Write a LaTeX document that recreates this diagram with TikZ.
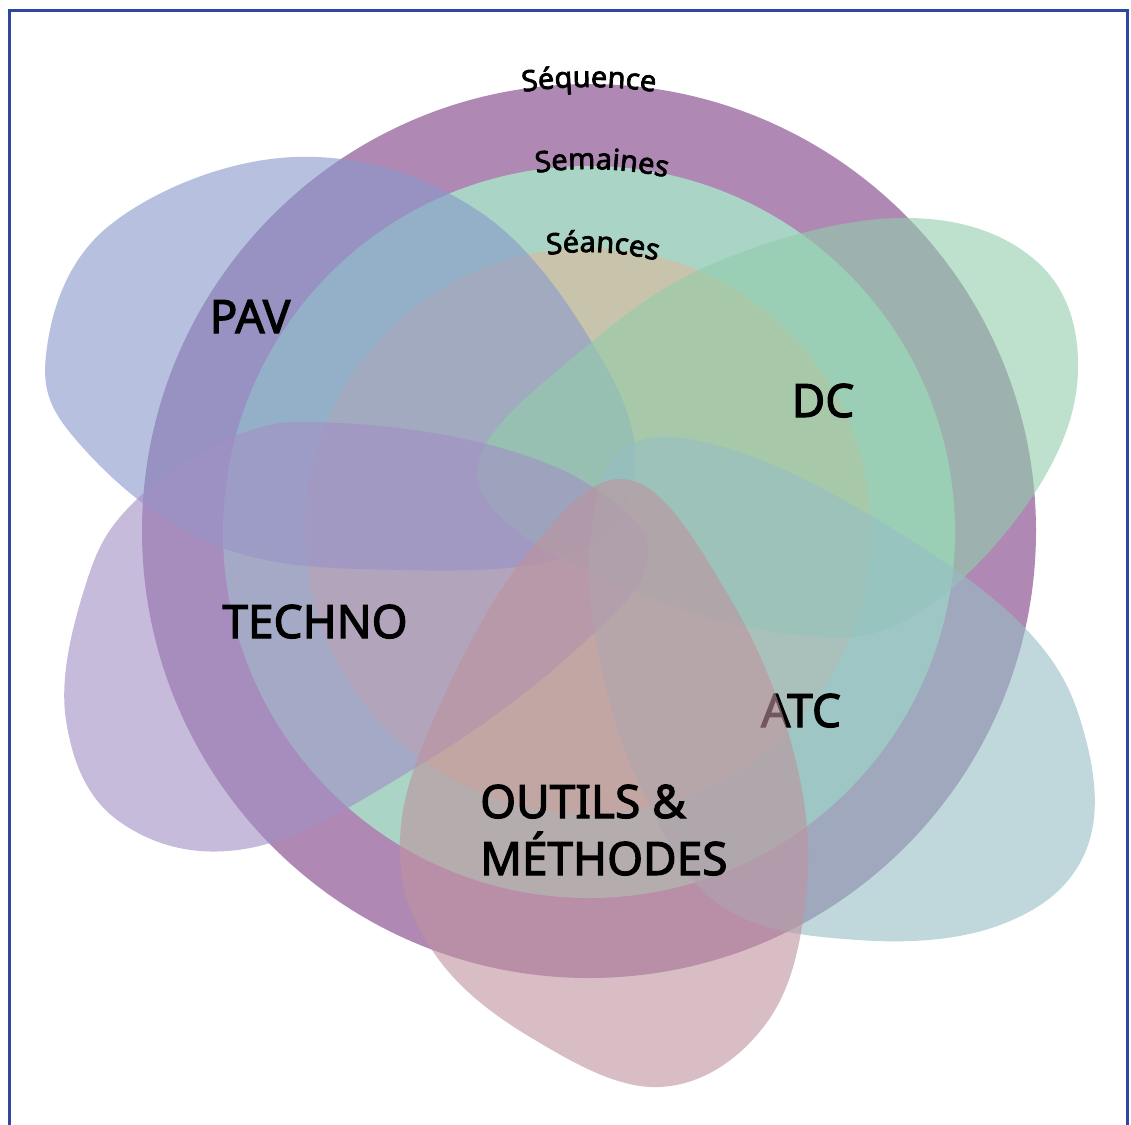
\documentclass[tikz,border=0pt]{standalone}
\usepackage{fontspec}
\setmainfont{Noto Sans}
\newfontfamily\medfont{Noto Sans}[FakeBold=2.5]
\usetikzlibrary{decorations.text}
\definecolor{ringout}{HTML}{AF89B4}
\definecolor{ringmid}{HTML}{A9D4C6}
\definecolor{ringin}{HTML}{C8C4AC}
\definecolor{pavc}{HTML}{8799CA}
\definecolor{dcc}{HTML}{91CDAA}
\definecolor{atcc}{HTML}{96BEC5}
\definecolor{outc}{HTML}{BE939D}
\definecolor{techc}{HTML}{A28FC5}
\definecolor{borderblue}{HTML}{2E47A3}
\begin{document}
\begin{tikzpicture}[x=1pt,y=-1pt,
  blob/.style={fill=#1, fill opacity=0.6, draw=none},
  lbl/.style={font=\medfont\fontsize{46}{57}\selectfont, text=black, inner sep=0pt, anchor=base},
  borderline/.style={draw=borderblue, line width=3pt},
  curvetext/.style={decorate, decoration={text along path, text align=center,
     text={|\medfont\fontsize{29}{34}\selectfont|#1}}}
]
\useasboundingbox (0,0) rectangle (1131,1124);
\fill[white] (0,0) rectangle (1131,1124);
\draw[borderline] (9,1130) -- (9,11) -- (1127,11) -- (1127,1130);
% concentric circles
\fill[ringout] (589,531) circle[radius=447];
\fill[ringmid] (589,532) circle[radius=366];
\fill[ringin] (588,531) circle[radius=283];
% curved labels
\path[curvetext=Séquence] (589,531) ++(250:444) arc[start angle=250, end angle=290, radius=444];
\path[curvetext=Semaines] (589,532) ++(250:363) arc[start angle=250, end angle=294, radius=363];
\path[curvetext=Séances] (588,531) ++(250:279) arc[start angle=250, end angle=296, radius=279];
% blobs
\fill[blob=pavc] plot[smooth cycle, tension=0.65] coordinates {(46,355) (110,225) (295,157) (480,212) (605,365) (633,480) (570,555) (400,570) (220,547) (85,450)};
\fill[blob=dcc] plot[smooth cycle, tension=0.65] coordinates {(481,455) (570,360) (710,265) (900,218) (1035,260) (1078,370) (1030,500) (910,618) (790,634) (630,590) (510,525)};
\fill[blob=techc] plot[smooth cycle, tension=0.65] coordinates {(133,503) (240,434) (340,423) (490,445) (600,492) (648,560) (570,655) (420,765) (250,848) (120,822) (66,720) (84,590)};
\fill[blob=atcc] plot[smooth cycle, tension=0.65] coordinates {(590,545) (622,450) (720,446) (873,517) (1025,628) (1086,740) (1084,855) (1000,925) (858,940) (720,905) (642,790) (600,660)};
\node[lbl] (atc) at (801,727) {ATC};
\fill[blob=outc] plot[smooth cycle, tension=0.65] coordinates {(630,480) (727,593) (793,750) (806,895) (765,1025) (660,1087) (530,1037) (432,950) (400,840) (440,705) (530,550)};
% labels
\node[lbl] (pav) at (250,333) {PAV};
\node[lbl] (dc) at (823,417) {DC};
\node[lbl] (techno) at (315,638) {TECHNO};
\node[lbl, anchor=base west, align=left] (outils) at (480,875) {OUTILS \&\\MÉTHODES};
\end{tikzpicture}
\end{document}
